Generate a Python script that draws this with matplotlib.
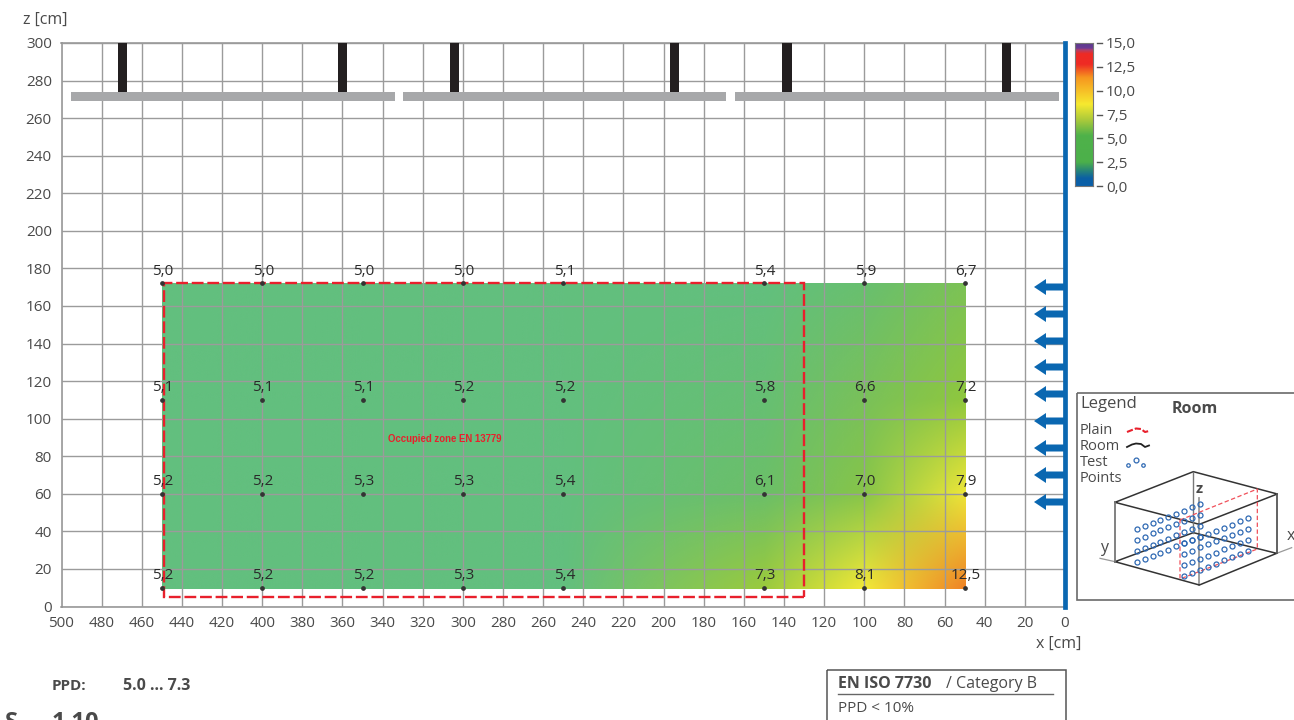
"""PPD distribution over the room section, with occupied zone and room legend."""

from __future__ import annotations

import matplotlib

matplotlib.use("Agg")
import matplotlib.pyplot as plt
import numpy as np
from matplotlib.colors import LinearSegmentedColormap, Normalize
from matplotlib.image import NonUniformImage
from matplotlib.patches import Polygon, Rectangle

W, H = 1294, 720
FONT = ["Open Sans", "DejaVu Sans"]
TEXT = "#4a4a4a"
BLUE = "#0a67b1"

# measured points
x_points = [450, 400, 350, 300, 250, 150, 100, 50]
z_points = [10, 60, 110, 172]
ppd_z10 = [5.2, 5.2, 5.2, 5.3, 5.4, 7.3, 8.1, 12.5]
ppd_z60 = [5.2, 5.2, 5.3, 5.3, 5.4, 6.1, 7.0, 7.9]
ppd_z110 = [5.1, 5.1, 5.1, 5.2, 5.2, 5.8, 6.6, 7.2]
ppd_z172 = [5.0, 5.0, 5.0, 5.0, 5.1, 5.4, 5.9, 6.7]

x_ticks = list(range(500, -1, -20))
z_ticks = list(range(0, 301, 20))
bar_ticks = [0.0, 2.5, 5.0, 7.5, 10.0, 12.5, 15.0]

# ceiling: (x from, x to) of the panels, x of the hangers
panels = [(495.5, 334), (330, 168.7), (164.3, 3)]
hangers = [469.6, 360, 304, 194.5, 138.5, 29]
# supply arrows, pixel rows
arrow_rows = [287, 314, 341, 367, 394, 421, 448, 475, 502]

plt.rcParams["font.family"] = FONT


def stop(v):
    return (v - 5.0) / 7.5


field_cmap = LinearSegmentedColormap.from_list(
    "field",
    [
        (stop(5.0), "#62bf7e"),
        (stop(5.5), "#62bf7e"),
        (stop(6.1), "#6cbf68"),
        (stop(6.7), "#7cc256"),
        (stop(7.2), "#8fc73f"),
        (stop(7.5), "#b5d33b"),
        (stop(7.9), "#f0e738"),
        (stop(8.4), "#f5ea38"),
        (stop(10.0), "#f3bd38"),
        (stop(12.5), "#ef8426"),
    ],
)
bar_cmap = LinearSegmentedColormap.from_list(
    "bar",
    [
        (0.0, "#0a5fa8"),
        (0.8 / 15, "#0b5fa5"),
        (1.7 / 15, "#2b8a72"),
        (2.5 / 15, "#4cb04a"),
        (5.3 / 15, "#4fb24a"),
        (6.9 / 15, "#a9c93b"),
        (8.6 / 15, "#f7e92f"),
        (11.4 / 15, "#f6961f"),
        (12.8 / 15, "#ee2a24"),
        (13.9 / 15, "#ee2a24"),
        (14.3 / 15, "#b0406a"),
        (14.5 / 15, "#6b3a96"),
        (1.0, "#5b3a8c"),
    ],
)


def px_axes(fig, left, top, right, bottom):
    return fig.add_axes([left / W, 1 - bottom / H, (right - left) / W, (bottom - top) / H])


def draw_field(ax):
    values = np.array([ppd_z10, ppd_z60, ppd_z110, ppd_z172])
    im = NonUniformImage(
        ax, interpolation="bilinear", cmap=field_cmap, norm=Normalize(5.0, 12.5), zorder=1,
    )
    im.set_data(x_points[::-1], z_points, values[:, ::-1])
    ax.add_image(im)
    im.set_clip_path(Rectangle((50, 10), 400, 162, transform=ax.transData))
    for z, row in zip(z_points, values):
        for x, v in zip(x_points, row):
            ax.plot(x, z, "o", ms=2.4, color="#333333", zorder=5)
            ax.text(
                x - 0.5, z + 2.5, f"{v:.1f}".replace(".", ","), ha="center", va="bottom",
                fontsize=11, color="#2a2a2a", zorder=6,
            )


def draw_section(fig):
    ax = px_axes(fig, 61.5, 43, 1065, 606.5)
    draw_field(ax)
    ax.set_xlim(500, 0)
    ax.set_ylim(0, 300)
    ax.set_xticks(x_ticks)
    ax.set_yticks(z_ticks)
    ax.tick_params(length=0, labelsize=11, labelcolor=TEXT, pad=7)
    ax.grid(True, color="#9b9b9b", lw=1.0, zorder=2)
    ax.set_axisbelow(False)
    for spine in ax.spines.values():
        spine.set_color("#8f8f8f")
        spine.set_linewidth(1.1)

    for x0, x1 in panels:
        ax.add_patch(Rectangle((x1, 269.3), x0 - x1, 4.8, fc="#a7a8aa", ec="none", zorder=3))
    for x in hangers:
        ax.add_patch(Rectangle((x - 2.3, 274), 4.6, 26, fc="#231f20", ec="none", zorder=3))

    ax.add_patch(Rectangle(
        (130, 5), 319, 167, fill=False, ec="#e8202c", lw=1.7, ls=(0, (5, 1.6)), zorder=4,
    ))
    ax.text(
        309, 89, "Occupied zone EN 13779", color="#e8202c", ha="center", va="center",
        fontsize=6.9, weight="bold", family=["Liberation Sans"], zorder=6,
    )

    ax.axvline(0, color=BLUE, lw=3.4, zorder=6, clip_on=False)


def draw_colorbar(fig):
    cax = px_axes(fig, 1075, 43, 1093, 186)
    gradient = np.linspace(0, 15, 256).reshape(-1, 1)
    cax.imshow(gradient, aspect="auto", origin="lower", cmap=bar_cmap, extent=(0, 1, 0, 15))
    cax.set_xticks([])
    cax.set_xlim(0, 1)
    cax.set_ylim(0, 15)
    cax.yaxis.tick_right()
    cax.set_yticks(bar_ticks)
    cax.set_yticklabels([f"{t:.1f}".replace(".", ",") for t in bar_ticks])
    cax.tick_params(axis="y", length=0, pad=9.4, labelsize=11, labelcolor=TEXT)
    for t in bar_ticks:
        cax.plot([1.22, 1.5], [t, t], color="#555555", lw=1, clip_on=False)
    for spine in cax.spines.values():
        spine.set_color("#777777")


def draw_arrows(ov):
    for y in arrow_rows:
        ov.add_patch(Polygon(
            [(1034, y), (1046, y - 8), (1046, y - 3.5), (1065, y - 3.5),
             (1065, y + 3.5), (1046, y + 3.5), (1046, y + 8)],
            closed=True, fc=BLUE, ec="none",
        ))


def draw_room_legend(ov):
    ov.add_patch(Rectangle((1076.5, 392.5), 300, 207.5, fill=False, ec="#6a6a6a", lw=1.2))
    ov.text(1080, 404, "Legend", fontsize=12, color=TEXT, va="center")
    ov.text(1195, 409, "Room", fontsize=11.5, color=TEXT, va="center", ha="center", weight="bold")
    for y, label in zip([431, 446, 463, 478], ["Plain", "Room", "Test", "Points"]):
        ov.text(1080, y, label, fontsize=10.5, color=TEXT, va="center")

    # little legend samples
    sx = np.array([1127, 1132, 1136, 1141, 1145, 1149])
    ov.plot(sx, [432, 430, 428.5, 429, 432, 431], color="#e8202c", lw=1.5, ls=(0, (3, 1)))
    ov.plot(sx, [447, 444.5, 443.5, 444, 447, 445.5], color="#222222", lw=1.3)
    ov.plot([1136], [460], "o", ms=3.5, mfc="none", mec="#2f69b3", mew=0.9)
    ov.plot([1128, 1143], [465, 465], "o", ms=2.5, mfc="none", mec="#2f69b3", mew=0.9)

    def crop(cx, cy):
        return 1060 + cx / 3, 385 + cy / 3

    def edge(points, **kw):
        xs, ys = zip(*[crop(*p) for p in points])
        ov.plot(xs, ys, **kw)

    room = dict(color="#333333", lw=1.1)
    # axes
    edge([(120, 520), (165, 530)], color="#999999", lw=0.9)
    edge([(650, 505), (695, 488)], color="#999999", lw=0.9)
    edge([(418, 340), (418, 600)], color="#999999", lw=1.3)
    # floor and ceiling of the room
    edge([(165, 352), (400, 260), (652, 327), (418, 418), (165, 352)], **room)
    edge([(165, 530), (400, 443), (650, 505), (418, 600), (165, 530)], **room)
    edge([(165, 352), (165, 530)], color="#777777", lw=1.3)
    edge([(652, 327), (652, 505)], color="#555555", lw=1.3)
    edge([(400, 260), (400, 443)], color="#777777", lw=1.0)

    # plane of the test points
    plane = dict(color="#f0505a", lw=0.9, ls=(0, (3.5, 2)))
    edge([(360, 405), (592, 312), (592, 492), (360, 582), (360, 405)], **plane)

    # test points on both walls
    col = np.linspace(0, 1, 9)
    for row in [0, 31, 65, 98]:
        gx = 230 + 190 * col
        gy = 433 + row - 75 * col
        px, py = crop(gx, gy)
        ov.plot(px, py, "o", ms=3.6, mfc="none", mec="#2f69b3", mew=0.9)
        gx = 373 + 190 * col
        gy = 475 + row - 75 * col
        px, py = crop(gx, gy)
        ov.plot(px, py, "o", ms=3.6, mfc="none", mec="#2f69b3", mew=0.9)

    ov.text(*crop(418, 312), "z", fontsize=10.5, color=TEXT, ha="center", va="center", weight="bold")
    ov.text(*crop(132, 490), "y", fontsize=11.5, color=TEXT, ha="center", va="center")
    ov.text(*crop(692, 452), "x", fontsize=11.5, color=TEXT, ha="center", va="center")


def main() -> None:
    fig = plt.figure(figsize=(W / 100, H / 100), dpi=100, facecolor="white")
    draw_section(fig)
    draw_colorbar(fig)

    ov = fig.add_axes([0, 0, 1, 1], zorder=10)
    ov.set_xlim(0, W)
    ov.set_ylim(H, 0)
    ov.set_axis_off()
    ov.patch.set_alpha(0)

    ov.text(23, 20, "z [cm]", fontsize=11.5, color=TEXT, va="center")
    ov.text(1036, 644, "x [cm]", fontsize=11.5, color=TEXT, va="center")
    ov.text(52, 686, "PPD:", fontsize=11, color=TEXT, va="center", weight="bold")
    ov.text(123, 686, "5.0 ... 7.3", fontsize=11.5, color=TEXT, va="center", weight="bold")
    # next line of the page, cut at the bottom as in the reference
    ov.text(5, 711, "S", fontsize=17, color=TEXT, va="top", weight="bold")
    ov.text(52, 711, "1.10", fontsize=17, color=TEXT, va="top", weight="bold")

    draw_arrows(ov)
    draw_room_legend(ov)

    ov.add_patch(Rectangle((827, 670), 239, 80, fill=False, ec="#555555", lw=1.1))
    ov.text(838, 684, "EN ISO 7730", fontsize=11.5, color=TEXT, va="center", weight="bold")
    ov.text(946, 684, "/ Category B", fontsize=11.5, color=TEXT, va="center")
    ov.plot([838, 1053], [694, 694], color="#666666", lw=1)
    ov.text(838, 708, "PPD < 10%", fontsize=11, color=TEXT, va="center")

    fig.savefig("out.png", dpi=100, facecolor="white")
    plt.close(fig)


if __name__ == "__main__":
    main()
